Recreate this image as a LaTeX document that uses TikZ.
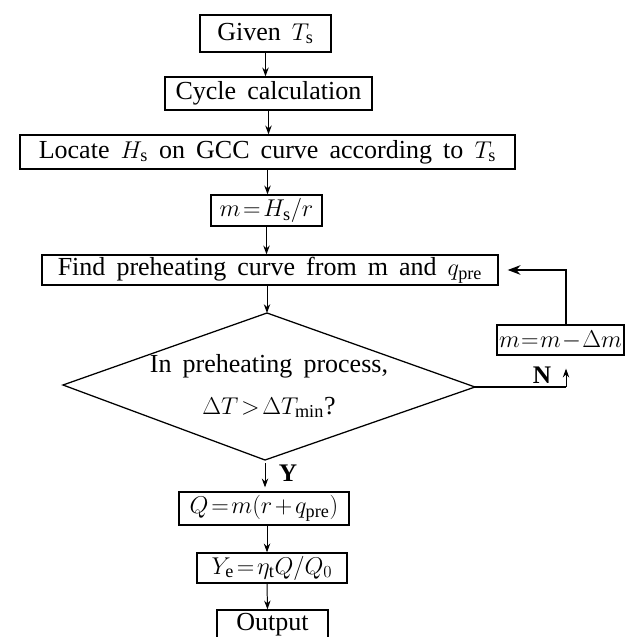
\documentclass[tikz,border=0pt]{standalone}
\usepackage{fontspec}
\setmainfont{Liberation Serif}[WordSpace=1.7]
\usetikzlibrary{arrows.meta,positioning,calc}
\thickmuskip=2mu
\medmuskip=2mu

\begin{document}
\begin{tikzpicture}[
  x=0.025cm, y=-0.025cm,
  font=\fontsize{18.5}{22}\selectfont,
  box/.style={draw=black, line width=0.9pt, inner sep=0pt, align=center},
  decision/.style={draw=black, line width=0.9pt, line join=miter},
  arrow/.style={-{Stealth[length=2.2mm,width=1.6mm]}, line width=0.7pt},
  bigarrow/.style={-{Stealth[length=3.2mm,width=2.4mm]}, line width=0.9pt},
  flag/.style={font=\fontsize{18}{22}\selectfont\bfseries}
]
\useasboundingbox (0,0) rectangle (627,637);

% ------------------------------------------------------------------
% main column
% ------------------------------------------------------------------
\node[box, minimum width=3.275cm, minimum height=0.925cm] (given) at (265.5,33.5) {Given $T_{\mathrm s}$};
\node[box, minimum width=5.175cm, minimum height=0.825cm] (cycle) at (268.5,93.5) {Cycle calculation};
\node[box, minimum width=12.375cm, minimum height=0.85cm] (locate) at (267.5,152) {Locate $H_{\mathrm s}$ on GCC curve according to $T_{\mathrm s}$};
\node[box, minimum width=2.775cm, minimum height=0.775cm] (mass) at (266.5,210.5) {$m=H_{\mathrm s}/r$};
\node[box, minimum width=11.4cm, minimum height=0.75cm] (find) at (270,270) {Find preheating curve from m and $q_{\mathrm{pre}}$};

\draw[arrow] (given.south) -- (given.south |- cycle.north);
\draw[arrow] (cycle.south) -- (cycle.south |- locate.north);
\draw[arrow] (locate.south) -- (locate.south |- mass.north);
\draw[arrow] (mass.south) -- (mass.south |- find.north);

% decision
\coordinate (dtop) at (267,313);
\coordinate (dleft) at (63,385);
\coordinate (dright) at (475,387);
\coordinate (dbot) at (265,460);
\draw[decision] (dtop) -- (dright) -- (dbot) -- (dleft) -- cycle;
\node[align=center] (cond) at (269,386) {In preheating process,\\[8pt] $\Delta T>\Delta T_{\min}$?};
\draw[arrow] (find.south -| dtop) -- (dtop);

% ------------------------------------------------------------------
% yes branch
% ------------------------------------------------------------------
\node[box, minimum width=4.25cm, minimum height=0.825cm] (heat) at (264,508.5) {$Q=m(r+q_{\mathrm{pre}})$};
\node[box, minimum width=3.75cm, minimum height=0.75cm] (yield) at (272,568) {$Y_{\mathrm e}=\eta_{\mathrm t}Q/Q_0$};
\node[box, minimum width=2.775cm, minimum height=0.75cm] (out) at (272.5,625) {Output};

\draw[arrow, shorten <=0.075cm, shorten >=0.1cm] (dbot) -- (dbot |- heat.north);
\node[flag] (yes) at (288,473) {Y};
\draw[arrow] ($(yield.north |- heat.south)+(-5,0)$) -- ($(yield.north)+(-5,0)$);
\draw[arrow] ($(yield.south)+(-5,0)$) -- ($(out.north)+(-5,0)$);

% ------------------------------------------------------------------
% no branch: loop back
% ------------------------------------------------------------------
\node[box, minimum width=3.175cm, minimum height=0.75cm, font=\fontsize{17}{20}\selectfont] (mm) at (560.5,340) {$\medmuskip=1mu\thickmuskip=1mu m=m-\Delta m$};
\coordinate (nturn) at (566,387);
\draw[line width=0.9pt] (dright) -- (nturn);
\node[flag] (no) at (542,375) {N};
\draw[arrow, shorten >=0.325cm] (nturn) -- (nturn |- mm.south);
\draw[bigarrow, shorten >=0.225cm] (nturn |- mm.north) |- (find.east);

\end{tikzpicture}
\end{document}
